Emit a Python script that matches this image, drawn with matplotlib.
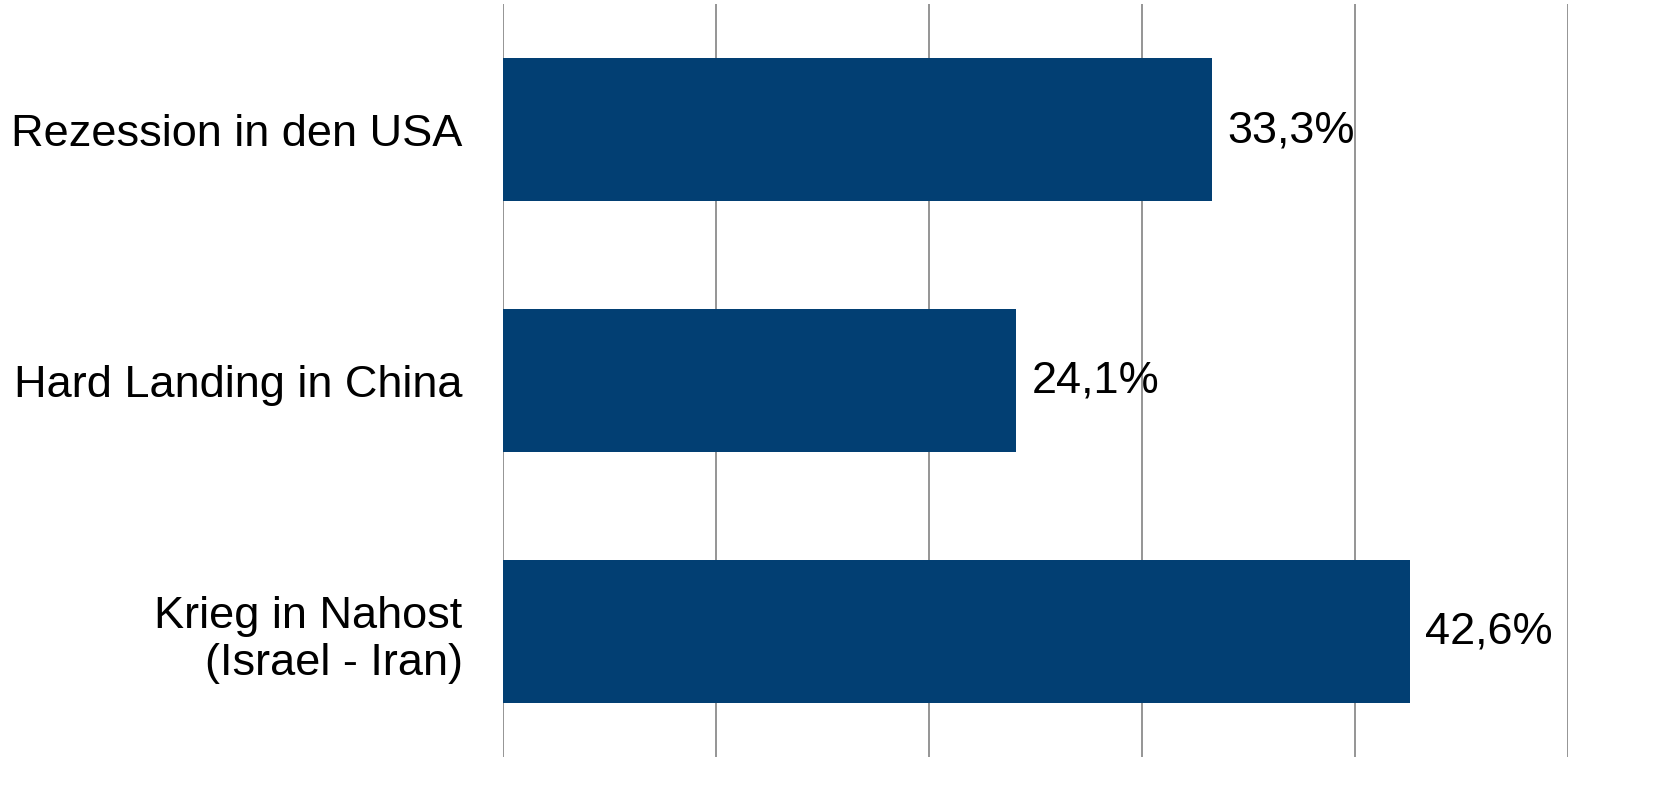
import matplotlib.pyplot as plt

plt.rcParams["font.family"] = ["Liberation Sans", "DejaVu Sans"]

# data
categories = ["Rezession in den USA", "Hard Landing in China", "Krieg in Nahost\n(Israel - Iran)"]
values = [33.3, 24.1, 42.6]
value_labels = ["33,3%", "24,1%", "42,6%"]
grid_ticks = [0, 10, 20, 30, 40, 50]

fig = plt.figure(figsize=(16.61, 8.04), dpi=100)
ax = fig.add_axes([503 / 1661, 46 / 804, 1065 / 1661, 753 / 804])

y = list(range(len(categories)))
ax.barh(y, values, height=0.57, color="#023f73", zorder=3)

for yi, v, lab in zip(y, values, value_labels):
    ax.annotate(lab, (v, yi), xytext=(15, 0), textcoords="offset pixels",
                ha="left", va="center", fontsize=32.5, color="black", zorder=4)

ax.set_xlim(0, 50)
ax.set_ylim(2.5, -0.5)
ax.set_xticks(grid_ticks)
ax.set_xticklabels([])
ax.tick_params(axis="x", length=0)
ax.set_yticks(y)
ax.set_yticklabels(categories, fontsize=32.5, ha="right")
ax.tick_params(axis="y", length=0, pad=29)
ax.grid(axis="x", color="#8c8c8c", linewidth=1.3, zorder=0)
for s in ax.spines.values():
    s.set_visible(False)

fig.savefig("out.png", dpi=100)
